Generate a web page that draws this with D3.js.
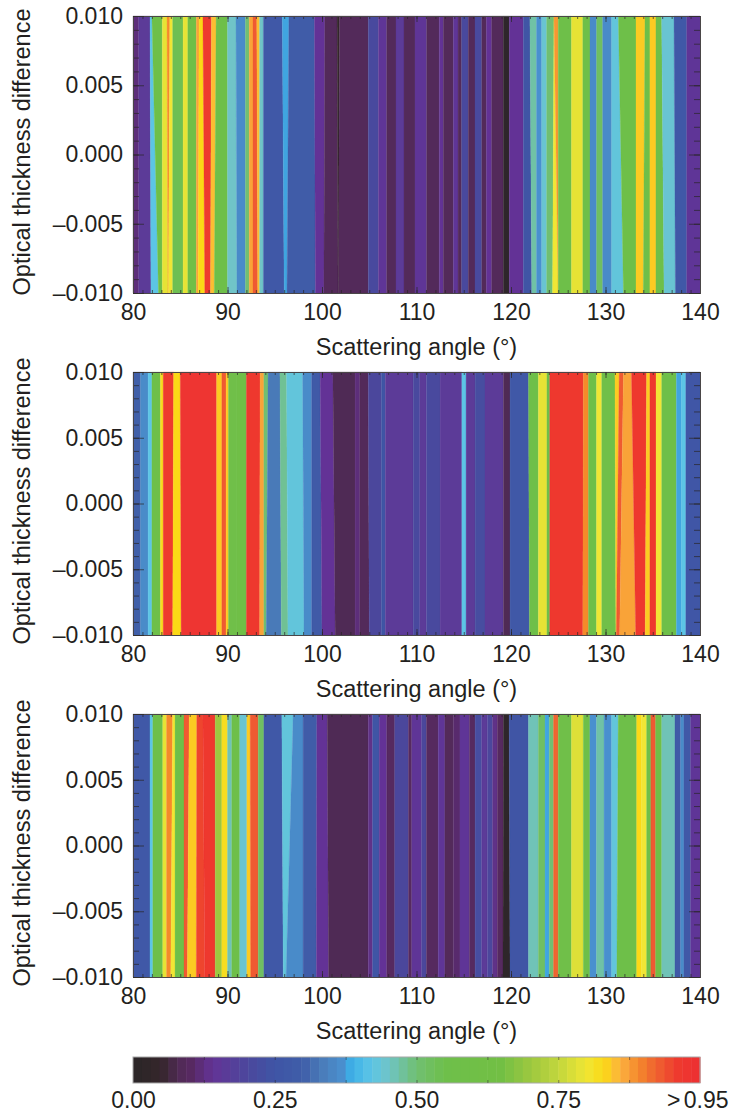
<!DOCTYPE html>
<html>
<head>
<meta charset="utf-8">
<script src="https://cdn.jsdelivr.net/npm/d3@7"></script>
<style>
    html, body { margin: 0; padding: 0; background: #fff; }
    text { font-family: "Liberation Sans", Arial, sans-serif; fill: #231f20; }
</style>
</head>
<body>
<div id="chart"></div>
<script>
// colour scale at the bottom
const colorStops = [0, 0.05, 0.08, 0.10, 0.14, 0.20, 0.25, 0.30, 0.33, 0.37, 0.385, 0.42, 0.45, 0.50, 0.55, 0.65, 0.70, 0.75, 0.80, 0.83, 0.86, 0.89, 0.92, 0.96, 1];
const colorHex = ["#2a2627", "#35262b", "#502a55", "#56295f", "#633396", "#4c479c", "#3f55a5", "#3f5ea9", "#4a7ab8", "#4a90cf", "#3cb0e8", "#5cc5e5", "#6fc4c8", "#70bf72", "#6ebf4a", "#72bf44", "#9cc840", "#c2d63c", "#f0e634", "#fbd916", "#fbb040", "#f58a2c", "#ef6530", "#ee3a2e", "#ed2f32"];

// first panel: value of each stripe, right edge of the stripe at top and at bottom (degrees)
const values1 = [.12, .16, .42, .55, .79, .89, .80, .54, .79, .60, .87, .83, .96, .85, .56, .45, .36, .50, .87, .93, .85, .45, .27, .38, .29, .14, .09, .04, .09, .21, .15, .09, .16, .09, .15, .09, .14, .09, .15, .09, .21, .09, .21, .09, .14, .09, .02, .14, .25, .47, .37, .44, .50, .80, .88, .55, .79, .55, .36, .52, .36, .43, .56, .84, .55, .84, .55, .44, .27, .15];
const edgesTop1 = [80.6, 81.8, 82.0, 83.1, 83.6, 83.9, 84.2, 85.3, 85.8, 86.7, 87.0, 87.4, 88.3, 88.8, 90.0, 90.9, 91.9, 92.3, 92.7, 93.1, 93.4, 93.8, 95.8, 96.5, 99.2, 100.3, 101.6, 101.85, 104.9, 105.96, 106.84, 107.83, 108.68, 109.84, 111.07, 112.41, 112.84, 113.9, 114.4, 114.78, 115.48, 116.19, 116.9, 117.4, 117.95, 119.19, 119.82, 121.3, 122.0, 122.7, 123.25, 123.77, 124.55, 124.55, 125.0, 126.4, 127.6, 128.36, 129.06, 129.7, 130.65, 131.36, 133.23, 134.18, 134.7, 135.34, 135.94, 137.25, 138.59, 140];
const edgesBottom1 = [80.6, 81.9, 82.7, 83.1, 83.7, 83.75, 84.2, 85.3, 85.8, 86.7, 86.9, 87.6, 88.2, 88.6, 90.0, 91.0, 91.9, 92.3, 92.7, 93.2, 93.4, 93.8, 96.0, 96.3, 99.3, 100.2, 101.7, 101.75, 104.9, 105.96, 106.84, 107.83, 108.68, 109.84, 111.07, 112.41, 112.84, 113.9, 114.4, 114.78, 115.48, 116.19, 116.9, 117.4, 117.95, 119.19, 119.82, 121.3, 122.2, 122.7, 123.25, 123.77, 124.4, 125.0, 125.0, 126.4, 127.6, 128.36, 129.06, 129.7, 130.65, 131.9, 133.23, 134.0, 134.7, 135.34, 136.2, 137.4, 138.59, 140];

// second panel
const values2 = [.30, .36, .42, .56, .82, .96, .83, .98, .84, .93, .84, .57, .60, .97, .87, .50, .33, .48, .43, .36, .28, .14, .08, .12, .09, .20, .25, .16, .21, .16, .21, .16, .42, .16, .22, .16, .08, .27, .55, .79, .56, .97, .89, .55, .80, .57, .84, .93, .87, .97, .84, .97, .80, .56, .38, .42, .26];
const edgesTop2 = [80.8, 81.6, 82.0, 82.9, 83.2, 84.3, 85.0, 88.85, 89.4, 89.85, 90.1, 91.0, 92.0, 93.45, 93.85, 94.3, 95.55, 96.25, 97.95, 98.9, 99.8, 101.15, 103.5, 104.0, 104.9, 106.3, 106.7, 109.65, 110.35, 111.05, 112.5, 114.8, 115.25, 116.2, 117.25, 119.2, 119.9, 121.85, 122.9, 123.8, 124.1, 127.65, 128.2, 129.05, 129.6, 131.0, 131.45, 131.9, 132.75, 134.35, 134.7, 135.35, 135.95, 137.5, 138.05, 138.5, 140];
const edgesBottom2 = [80.8, 81.6, 82.0, 82.9, 83.2, 84.2, 85.1, 88.85, 89.4, 89.85, 90.1, 91.0, 92.0, 93.4, 93.85, 94.1, 95.7, 96.4, 98.1, 98.9, 100.0, 101.4, 103.5, 104.0, 105.0, 106.3, 106.7, 109.65, 110.35, 111.05, 112.5, 114.8, 115.25, 116.2, 117.25, 119.2, 119.9, 121.95, 122.9, 123.8, 124.1, 127.6, 128.2, 129.05, 129.6, 131.1, 131.15, 131.5, 133.2, 134.2, 134.7, 135.35, 135.95, 137.5, 138.05, 138.5, 140];

// third panel
const values3 = [.27, .42, .56, .79, .89, .80, .56, .93, .84, .95, .97, .70, .82, .46, .56, .44, .84, .93, .52, .27, .43, .36, .29, .14, .08, .13, .25, .14, .10, .20, .10, .15, .20, .10, .15, .09, .11, .15, .10, .22, .16, .20, .13, .10, .02, .25, .46, .52, .38, .50, .92, .57, .78, .55, .37, .47, .37, .43, .55, .83, .80, .55, .93, .60, .46, .28, .36, .27, .15];
const edgesTop3 = [81.8, 82.1, 83.15, 83.55, 84.2, 84.45, 85.4, 85.95, 86.75, 87.4, 88.7, 89.4, 90.0, 90.45, 91.3, 92.05, 92.4, 93.25, 93.85, 95.75, 96.95, 98.0, 99.45, 100.55, 104.9, 105.35, 106.05, 106.85, 107.7, 109.15, 109.5, 110.55, 111.05, 112.3, 113.0, 113.9, 114.6, 115.6, 116.2, 116.9, 117.5, 118.05, 118.55, 119.2, 119.8, 121.85, 122.9, 123.6, 124.05, 124.5, 125.0, 126.4, 127.65, 128.35, 129.05, 129.85, 130.65, 131.35, 133.3, 133.8, 134.35, 134.8, 135.3, 135.95, 137.35, 137.95, 138.3, 139.0, 140];
const edgesBottom3 = [81.8, 82.1, 83.15, 83.55, 84.0, 84.45, 85.4, 85.75, 86.7, 87.6, 88.7, 89.4, 90.0, 90.45, 91.3, 92.05, 92.45, 93.25, 93.85, 95.9, 96.2, 98.0, 99.4, 100.7, 104.9, 105.35, 106.05, 106.85, 107.7, 109.15, 109.5, 110.55, 111.05, 112.3, 113.0, 113.9, 114.6, 115.6, 116.2, 116.9, 117.5, 118.05, 118.55, 119.15, 119.9, 121.85, 122.9, 123.6, 124.05, 124.5, 125.0, 126.4, 127.65, 128.35, 129.05, 129.85, 130.65, 131.2, 133.3, 133.8, 134.35, 134.8, 135.3, 135.95, 137.35, 137.95, 138.3, 139.0, 140];

const xTicks = [80, 90, 100, 110, 120, 130, 140];
const yTicks = [-0.010, -0.005, 0, 0.005, 0.010];
const barTicks = [0, 0.25, 0.5, 0.75, 1];
const barMinor = [0.125, 0.25, 0.375, 0.5, 0.625, 0.75, 0.875];
const barLabels = ["0.00", "0.25", "0.50", "0.75", "> 0.95"];

const width = 730;
const height = 1114;
const left = 133;
const right = 700;

const panels = [
    { top: 16, bottom: 293, values: values1, edgesTop: edgesTop1, edgesBottom: edgesBottom1 },
    { top: 372, bottom: 635, values: values2, edgesTop: edgesTop2, edgesBottom: edgesBottom2 },
    { top: 714, bottom: 977, values: values3, edgesTop: edgesTop3, edgesBottom: edgesBottom3 }
];

const svg = d3.select("#chart").append("svg")
    .attr("width", width)
    .attr("height", height)
    .style("display", "block");

svg.append("defs").append("filter")
    .attr("id", "soft")
    .append("feGaussianBlur")
    .attr("stdDeviation", 0.5);

const color = d3.scaleLinear().domain(colorStops).range(colorHex);
const x = d3.scaleLinear().domain([80, 140]).range([left, right]);
const fmtY = d => (d < 0 ? "\u2013" : "") + d3.format(".3f")(Math.abs(d));
const tickColor = "#2a2627";

panels.forEach(p => {
    const y = d3.scaleLinear().domain([-0.010, 0.010]).range([p.bottom, p.top]);
    const g = svg.append("g");

    // stripes, each one a polygon between its edges at the top and at the bottom
    g.append("g")
        .attr("filter", "url(#soft)")
        .selectAll("path")
        .data(p.values)
        .join("path")
        .attr("fill", d => color(d))
        .attr("stroke", d => color(d))
        .attr("stroke-width", 0.3)
        .attr("d", (d, i) => {
            const t0 = i ? p.edgesTop[i - 1] : 80;
            const b0 = i ? p.edgesBottom[i - 1] : 80;
            return d3.line()([
                [x(t0), y(0.010)],
                [x(p.edgesTop[i]), y(0.010)],
                [x(p.edgesBottom[i]), y(-0.010)],
                [x(b0), y(-0.010)]
            ]) + "Z";
        });

    // minor then major ticks on all four sides, pointing inwards
    const xMinor = d3.range(80, 141, 1);
    const yMinor = d3.range(-10, 11).map(d => d / 1000);
    const sides = [
        d3.axisBottom(x).tickValues(xMinor).tickSize(-3),
        d3.axisTop(x).tickValues(xMinor).tickSize(-3),
        d3.axisLeft(y).tickValues(yMinor).tickSize(-6),
        d3.axisRight(y).tickValues(yMinor).tickSize(-6),
        d3.axisBottom(x).tickValues(xTicks).tickSize(-6),
        d3.axisTop(x).tickValues(xTicks).tickSize(-6),
        d3.axisLeft(y).tickValues(yTicks).tickSize(-11),
        d3.axisRight(y).tickValues(yTicks).tickSize(-11)
    ];
    const shift = [[0, p.bottom], [0, p.top], [left, 0], [right, 0], [0, p.bottom], [0, p.top], [left, 0], [right, 0]];
    sides.forEach((axis, i) => {
        const a = g.append("g")
            .attr("transform", `translate(${shift[i][0]},${shift[i][1]})`)
            .call(axis.tickFormat(""));
        a.selectAll("line").attr("stroke", tickColor).attr("stroke-width", 1).attr("opacity", 0.7);
        a.select(".domain").attr("stroke", "#4a4648").attr("stroke-width", 1);
        a.selectAll("text").remove();
    });

    // tick labels
    const xLab = g.append("g")
        .attr("transform", `translate(0,${p.bottom})`)
        .call(d3.axisBottom(x).tickValues(xTicks).tickSize(0).tickPadding(11).tickFormat(d3.format("d")));
    xLab.select(".domain").remove();
    xLab.selectAll("text").style("font-size", "23px");

    const yLab = g.append("g")
        .attr("transform", `translate(${left},0)`)
        .call(d3.axisLeft(y).tickValues(yTicks).tickSize(0).tickPadding(10).tickFormat(fmtY));
    yLab.select(".domain").remove();
    yLab.selectAll("text").style("font-size", "23px");

    g.append("text")
        .attr("x", (left + right) / 2)
        .attr("y", p.bottom + 62)
        .attr("text-anchor", "middle")
        .style("font-size", "23.5px")
        .text("Scattering angle (\u00b0)");

    g.append("text")
        .attr("transform", `translate(30,${(p.top + p.bottom) / 2 - 2.5}) rotate(-90)`)
        .attr("text-anchor", "middle")
        .style("font-size", "23.5px")
        .text("Optical thickness difference");
});

// colour bar
const barTop = 1057;
const barBottom = 1083;
const bar = d3.scaleLinear().domain([0, 1]).range([left, right]);
const levels = d3.range(0, 1, 1 / 64);

svg.append("g")
    .selectAll("rect")
    .data(levels)
    .join("rect")
    .attr("x", d => bar(d))
    .attr("y", barTop)
    .attr("width", bar(1 / 64) - bar(0) + 0.5)
    .attr("height", barBottom - barTop)
    .attr("fill", d => color(d + 1 / 128));

svg.append("rect")
    .attr("x", left)
    .attr("y", barTop)
    .attr("width", right - left)
    .attr("height", barBottom - barTop)
    .attr("fill", "none")
    .attr("stroke", "#a8a8a8")
    .attr("stroke-width", 1);

[[d3.axisBottom(bar), barBottom], [d3.axisTop(bar), barTop]].forEach(([axis, yPos]) => {
    const a = svg.append("g")
        .attr("transform", `translate(0,${yPos})`)
        .call(axis.tickValues(barMinor).tickSize(-3).tickFormat(""));
    a.select(".domain").remove();
    a.selectAll("line").attr("stroke", tickColor).attr("opacity", 0.5);
});

const barAxis = svg.append("g")
    .attr("transform", `translate(0,${barBottom})`)
    .call(d3.axisBottom(bar).tickValues(barTicks).tickSize(0).tickPadding(9).tickFormat((d, i) => barLabels[i]));
barAxis.select(".domain").remove();
barAxis.selectAll("text").style("font-size", "23px");
// the last label sits against the page edge, so it is kept inside the window
barAxis.selectAll("text")
    .filter(d => d === 1)
    .attr("text-anchor", "end")
    .attr("x", 28)
    .style("word-spacing", "-3px");
</script>
</body>
</html>
